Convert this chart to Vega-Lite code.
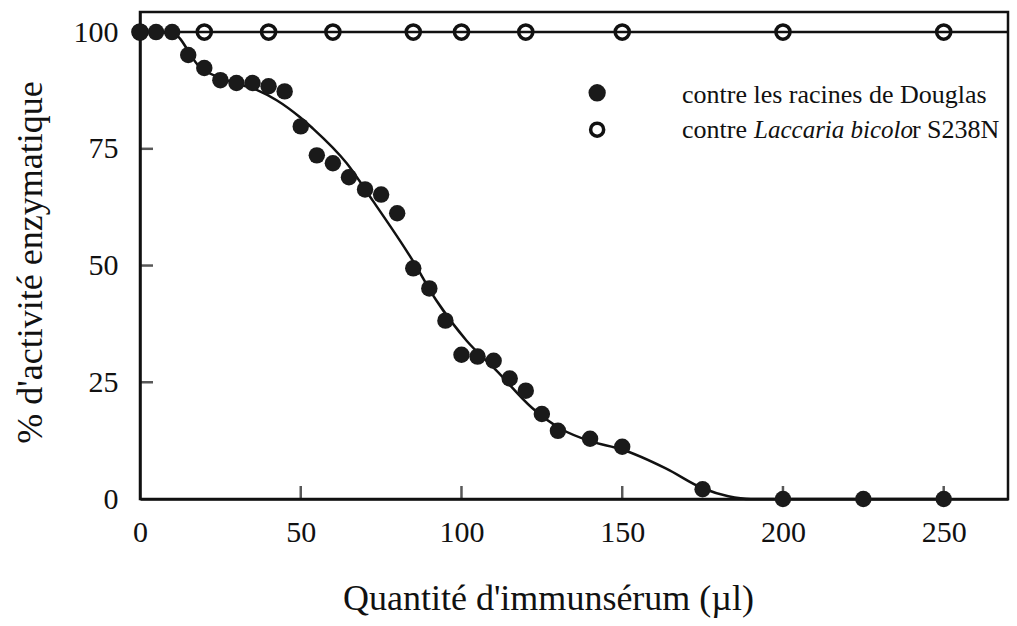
{
  "$schema": "https://vega.github.io/schema/vega-lite/v6.json",
  "width": 868,
  "height": 487,
  "autosize": {"type": "none"},
  "padding": {"left": 140, "top": 12, "right": 9, "bottom": 127},
  "background": "white",
  "config": {
    "view": {"stroke": "#111", "strokeWidth": 2.5},
    "font": "Liberation Serif",
    "axis": {
      "grid": false,
      "domainColor": "#111",
      "domainWidth": 2.5,
      "ticks": false,
      "labelFont": "Liberation Serif",
      "labelFontSize": 30,
      "labelColor": "#111",
      "titleFont": "Liberation Serif",
      "titleFontSize": 36,
      "titleFontWeight": "normal",
      "titleColor": "#111"
    }
  },
  "datasets": {
    "douglas": [
      {"q": 0, "pct": 100}, {"q": 5, "pct": 100}, {"q": 10, "pct": 100},
      {"q": 15, "pct": 95.1}, {"q": 20, "pct": 92.3}, {"q": 25, "pct": 89.7},
      {"q": 30, "pct": 89.1}, {"q": 35, "pct": 89.1}, {"q": 40, "pct": 88.4},
      {"q": 45, "pct": 87.3}, {"q": 50, "pct": 79.8}, {"q": 55, "pct": 73.6},
      {"q": 60, "pct": 71.9}, {"q": 65, "pct": 68.9}, {"q": 70, "pct": 66.3},
      {"q": 75, "pct": 65.2}, {"q": 80, "pct": 61.2}, {"q": 85, "pct": 49.4},
      {"q": 90, "pct": 45.1}, {"q": 95, "pct": 38.2}, {"q": 100, "pct": 30.9},
      {"q": 105, "pct": 30.5}, {"q": 110, "pct": 29.6}, {"q": 115, "pct": 25.8},
      {"q": 120, "pct": 23.2}, {"q": 125, "pct": 18.2}, {"q": 130, "pct": 14.6},
      {"q": 140, "pct": 12.9}, {"q": 150, "pct": 11.2}, {"q": 175, "pct": 2.1},
      {"q": 200, "pct": 0}, {"q": 225, "pct": 0}, {"q": 250, "pct": 0}
    ],
    "laccaria": [
      {"q": 0, "pct": 100}, {"q": 20, "pct": 100}, {"q": 40, "pct": 100},
      {"q": 60, "pct": 100}, {"q": 85, "pct": 100}, {"q": 100, "pct": 100},
      {"q": 120, "pct": 100}, {"q": 150, "pct": 100}, {"q": 200, "pct": 100},
      {"q": 250, "pct": 100}
    ],
    "laccariaLine": [
      {"q": 0, "pct": 100}, {"q": 270, "pct": 100}
    ],
    "fit": [
      {"q": 0, "pct": 100}, {"q": 10, "pct": 99.8}, {"q": 18.6, "pct": 92.5},
      {"q": 27, "pct": 89.7}, {"q": 36.3, "pct": 87.6}, {"q": 42.5, "pct": 85.4},
      {"q": 49.7, "pct": 81.8}, {"q": 53.7, "pct": 79.4}, {"q": 64.3, "pct": 71.9},
      {"q": 72.4, "pct": 63.9}, {"q": 84.8, "pct": 51.1}, {"q": 92.2, "pct": 42.5},
      {"q": 101.6, "pct": 33.9}, {"q": 110.9, "pct": 27.5}, {"q": 122, "pct": 19.5},
      {"q": 131, "pct": 15.0}, {"q": 140, "pct": 12.4}, {"q": 150, "pct": 10.6},
      {"q": 163.7, "pct": 6.5}, {"q": 175, "pct": 2.3}, {"q": 183, "pct": 0.6},
      {"q": 190, "pct": 0}, {"q": 250, "pct": 0}
    ],
    "xticks": [{"q": 50, "pct": 0}, {"q": 100, "pct": 0}, {"q": 150, "pct": 0}, {"q": 200, "pct": 0}, {"q": 250, "pct": 0}],
    "yticks": [{"q": 0, "pct": 25}, {"q": 0, "pct": 50}, {"q": 0, "pct": 75}],
    "legendSym": [
      {"q": 142.2, "pct": 87.0, "kind": "filled"},
      {"q": 142.2, "pct": 79.1, "kind": "open"}
    ],
    "legendText": [
      {"q": 168.6, "pct": 84.85, "label": "contre les racines de Douglas", "style": "normal"},
      {"q": 168.6, "pct": 77.35, "label": "contre", "style": "normal"},
      {"q": 191.0, "pct": 77.35, "label": "Laccaria bicolo", "style": "italic"},
      {"q": 240.1, "pct": 77.35, "label": "r S238N", "style": "normal"}
    ]
  },
  "layer": [
    {
      "data": {"name": "fit"},
      "mark": {"type": "line", "color": "#111", "strokeWidth": 2.5, "interpolate": "monotone"},
      "encoding": {
        "x": {"field": "q", "type": "quantitative", "scale": {"domain": [0, 270], "nice": false},
          "axis": {"values": [0, 50, 100, 150, 200, 250], "title": "Quantité d'immunsérum (µl)", "labelPadding": 18, "titlePadding": 34, "titleX": 408, "labelFlush": false}},
        "y": {"field": "pct", "type": "quantitative", "scale": {"domain": [0, 104.3], "nice": false},
          "axis": {"values": [0, 25, 50, 75, 100], "title": "% d'activité enzymatique", "labelPadding": 22, "titlePadding": 24, "titleY": 250, "labelFlush": false}}
      }
    },
    {
      "data": {"name": "xticks"},
      "mark": {"type": "tick", "orient": "vertical", "color": "#111", "thickness": 2.5, "size": 13, "yOffset": -6.5},
      "encoding": {
        "x": {"field": "q", "type": "quantitative"},
        "y": {"field": "pct", "type": "quantitative"}
      }
    },
    {
      "data": {"name": "yticks"},
      "mark": {"type": "tick", "orient": "horizontal", "color": "#111", "thickness": 2.5, "size": 13, "xOffset": 6.5},
      "encoding": {
        "x": {"field": "q", "type": "quantitative"},
        "y": {"field": "pct", "type": "quantitative"}
      }
    },
    {
      "data": {"name": "laccariaLine"},
      "mark": {"type": "line", "color": "#111", "strokeWidth": 2.5},
      "encoding": {
        "x": {"field": "q", "type": "quantitative"},
        "y": {"field": "pct", "type": "quantitative"}
      }
    },
    {
      "data": {"name": "laccaria"},
      "mark": {"type": "point", "shape": "circle", "filled": false, "color": "#111", "strokeWidth": 3.5, "size": 200, "opacity": 1},
      "encoding": {
        "x": {"field": "q", "type": "quantitative"},
        "y": {"field": "pct", "type": "quantitative"}
      }
    },
    {
      "data": {"name": "douglas"},
      "mark": {"type": "circle", "color": "#1a1a1a", "size": 270, "opacity": 1},
      "encoding": {
        "x": {"field": "q", "type": "quantitative"},
        "y": {"field": "pct", "type": "quantitative"}
      }
    },
    {
      "data": {"name": "legendSym"},
      "transform": [{"filter": "datum.kind === 'filled'"}],
      "mark": {"type": "circle", "color": "#1a1a1a", "size": 300, "opacity": 1},
      "encoding": {
        "x": {"field": "q", "type": "quantitative"},
        "y": {"field": "pct", "type": "quantitative"}
      }
    },
    {
      "data": {"name": "legendSym"},
      "transform": [{"filter": "datum.kind === 'open'"}],
      "mark": {"type": "point", "shape": "circle", "filled": false, "color": "#111", "strokeWidth": 3.5, "size": 170, "opacity": 1},
      "encoding": {
        "x": {"field": "q", "type": "quantitative"},
        "y": {"field": "pct", "type": "quantitative"}
      }
    },
    {
      "data": {"name": "legendText"},
      "transform": [{"filter": "datum.style === 'normal'"}],
      "mark": {"type": "text", "align": "left", "baseline": "alphabetic", "font": "Liberation Serif", "fontSize": 26, "color": "#111"},
      "encoding": {
        "x": {"field": "q", "type": "quantitative"},
        "y": {"field": "pct", "type": "quantitative"},
        "text": {"field": "label"}
      }
    },
    {
      "data": {"name": "legendText"},
      "transform": [{"filter": "datum.style === 'italic'"}],
      "mark": {"type": "text", "align": "left", "baseline": "alphabetic", "font": "Liberation Serif", "fontStyle": "italic", "fontSize": 25, "color": "#111"},
      "encoding": {
        "x": {"field": "q", "type": "quantitative"},
        "y": {"field": "pct", "type": "quantitative"},
        "text": {"field": "label"}
      }
    }
  ]
}
